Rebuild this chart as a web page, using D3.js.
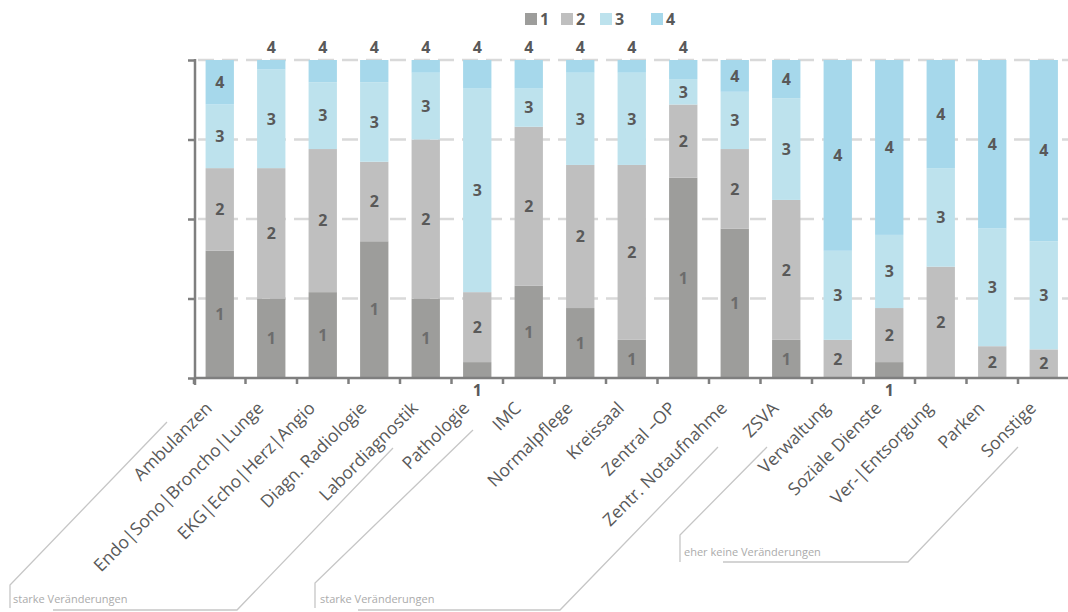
<!DOCTYPE html>
<html>
<head>
<meta charset="utf-8">
<script src="https://cdnjs.cloudflare.com/ajax/libs/d3/7.8.5/d3.min.js"></script>
<style>
  body { margin: 0; background: #fff; }
  text { font-family: "Open Sans", "DejaVu Sans", sans-serif; }
</style>
</head>
<body>
<div id="chart"></div>
<script>
// categories and series (percent of answers per rating 1..4)
var categories = ["Ambulanzen", "Endo|Sono|Broncho|Lunge", "EKG|Echo|Herz|Angio", "Diagn. Radiologie",
    "Labordiagnostik", "Pathologie", "IMC", "Normalpflege", "Kreissaal", "Zentral –OP",
    "Zentr. Notaufnahme", "ZSVA", "Verwaltung", "Soziale Dienste", "Ver-|Entsorgung", "Parken", "Sonstige"];
var seriesNames = ["1", "2", "3", "4"];
var rating1 = [40, 25, 27, 43, 25, 5, 29, 22, 12, 63, 47, 12, 0, 5, 0, 0, 0];
var rating2 = [26, 41, 45, 25, 50, 22, 50, 45, 55, 23, 25, 44, 12, 17, 35, 10, 9];
var rating3 = [20, 31, 21, 25, 21, 64, 12, 29, 29, 8, 18, 32, 28, 23, 31, 37, 34];
var rating4 = [14, 3, 7, 7, 4, 9, 9, 4, 4, 6, 10, 12, 60, 55, 34, 53, 57];
var yTicks = [0, 25, 50, 75, 100];

// bracket annotations below the axis
var groupNotes = [
    {text: "starke Veränderungen", tx: 13, ty: 603,
     left: [[167, 422], [10, 585], [10, 608]], bottom: [[53, 610], [237, 610], [393, 448]]},
    {text: "starke Veränderungen", tx: 320, ty: 603,
     left: [[473, 430], [315, 583], [315, 608]], bottom: [[358, 610], [560, 610], [718, 447]]},
    {text: "eher keine Veränderungen", tx: 684, ty: 556,
     left: [[767, 447], [680, 535], [680, 562]], bottom: [[723, 562], [908, 562], [1018, 447]]}
];

var colors = ["#9d9d9b", "#bfbfbf", "#bde2ed", "#a6d8eb"];
var labelColors = ["#6c6c6c", "#595959", "#595959", "#595959"];

var W = 1068, H = 612;
var plotLeft = 194, plotRight = 1069.5, plotTop = 60, plotBottom = 378;

var svg = d3.select("#chart")
    .append("svg")
    .attr("width", W)
    .attr("height", H);

var table = categories.map(function(c, i) {
    return {cat: c, "1": rating1[i], "2": rating2[i], "3": rating3[i], "4": rating4[i]};
});
var stacked = d3.stack().keys(seriesNames)(table);

var x = d3.scaleBand()
    .domain(categories)
    .range([plotLeft, plotRight])
    .paddingInner(0.45)
    .paddingOuter(0.225);
var y = d3.scaleLinear()
    .domain([0, 100])
    .range([plotBottom, plotTop]);

// dashed gridlines
svg.append("g")
    .selectAll("line")
    .data(yTicks.slice(1))
    .enter().append("line")
    .attr("x1", plotLeft + 4)
    .attr("x2", W)
    .attr("y1", function(d) { return y(d); })
    .attr("y2", function(d) { return y(d); })
    .attr("stroke", "#d9d9d9")
    .attr("stroke-width", 2.5)
    .attr("stroke-dasharray", "16,8");

// bars
svg.append("g")
    .selectAll("g")
    .data(stacked)
    .enter().append("g")
    .attr("fill", function(d, i) { return colors[i]; })
    .selectAll("rect")
    .data(function(d) { return d; })
    .enter().append("rect")
    .attr("x", function(d) { return x(d.data.cat); })
    .attr("y", function(d) { return y(d[1]); })
    .attr("width", x.bandwidth())
    .attr("height", function(d) { return y(d[0]) - y(d[1]); });

// y axis
var yAxis = svg.append("g")
    .attr("transform", "translate(" + (plotLeft + 1) + ",0)")
    .call(d3.axisLeft(y).tickValues(yTicks).tickSize(7).tickFormat(""));
yAxis.select(".domain").remove();
yAxis.selectAll("line").attr("stroke", "#7f7f7f").attr("stroke-width", 2.5);
svg.append("line")
    .attr("x1", plotLeft + 1).attr("x2", plotLeft + 1)
    .attr("y1", plotTop - 1).attr("y2", plotBottom + 7)
    .attr("stroke", "#7f7f7f")
    .attr("stroke-width", 2.5);

// x axis with ticks between categories
var step = x.step();
var boundaries = d3.range(categories.length + 1).map(function(i) { return plotLeft + i * step; });
svg.append("line")
    .attr("x1", plotLeft).attr("x2", W)
    .attr("y1", plotBottom).attr("y2", plotBottom)
    .attr("stroke", "#7f7f7f")
    .attr("stroke-width", 2.5);
svg.append("g")
    .selectAll("line")
    .data(boundaries)
    .enter().append("line")
    .attr("x1", function(d) { return d; })
    .attr("x2", function(d) { return d; })
    .attr("y1", plotBottom)
    .attr("y2", plotBottom + 6)
    .attr("stroke", "#7f7f7f")
    .attr("stroke-width", 2.5);

// category labels
svg.append("g")
    .selectAll("text")
    .data(categories)
    .enter().append("text")
    .attr("transform", function(d) {
        return "translate(" + (x(d) + x.bandwidth() / 2 - 11) + "," + (plotBottom + 27) + ") rotate(-45)";
    })
    .attr("text-anchor", "end")
    .attr("dy", "0.35em")
    .style("font-size", "17.5px")
    .style("font-weight", "500")
    .style("fill", "#595959")
    .text(function(d) { return d; });

// data labels
stacked.forEach(function(layer, si) {
    svg.append("g")
        .selectAll("text")
        .data(layer.filter(function(d) { return d[1] - d[0] > 0; }))
        .enter().append("text")
        .attr("x", function(d) { return x(d.data.cat) + x.bandwidth() / 2; })
        .attr("y", function(d) {
            var v = d[1] - d[0];
            if (si == 3 && v < 9.5) return y(100) - 13;
            if (si == 0 && v < 6) return y(0) + 12;
            return (y(d[0]) + y(d[1])) / 2;
        })
        .attr("text-anchor", "middle")
        .attr("dy", "0.36em")
        .style("font-size", "16px")
        .style("font-weight", "700")
        .style("fill", function(d) {
            var v = d[1] - d[0];
            if (si == 0 && v >= 6) return labelColors[0];
            return "#595959";
        })
        .text(layer.key);
});

// legend
var legendX = [525, 561, 600, 651];
var legend = svg.append("g")
    .selectAll("g")
    .data(seriesNames)
    .enter().append("g")
    .attr("transform", function(d, i) { return "translate(" + legendX[i] + ",13)"; });
legend.append("rect")
    .attr("width", 12)
    .attr("height", 12)
    .attr("fill", function(d, i) { return colors[i]; });
legend.append("text")
    .attr("x", 15)
    .attr("y", 6)
    .attr("dy", "0.36em")
    .style("font-size", "16px")
    .style("font-weight", "700")
    .style("fill", "#595959")
    .text(function(d) { return d; });

// group brackets
var line = d3.line();
groupNotes.forEach(function(g) {
    svg.append("path")
        .attr("d", line(g.left))
        .attr("fill", "none")
        .attr("stroke", "#c6c6c6")
        .attr("stroke-width", 1.3);
    svg.append("path")
        .attr("d", line(g.bottom))
        .attr("fill", "none")
        .attr("stroke", "#c6c6c6")
        .attr("stroke-width", 1.3);
    svg.append("text")
        .attr("x", g.tx)
        .attr("y", g.ty)
        .style("font-size", "11px")
        .style("fill", "#ababab")
        .text(g.text);
});
</script>
</body>
</html>
